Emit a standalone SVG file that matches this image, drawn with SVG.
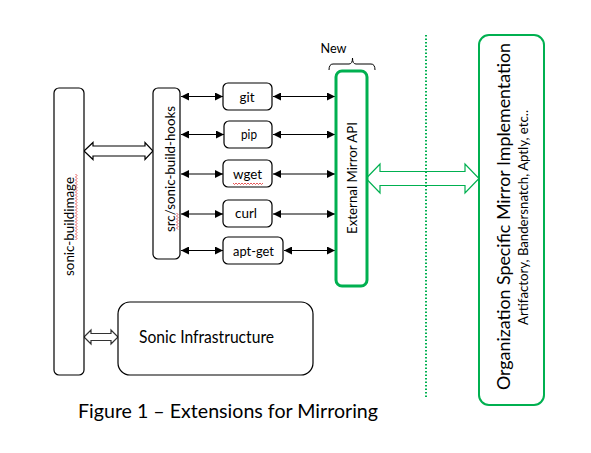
<svg xmlns="http://www.w3.org/2000/svg" width="591" height="453" viewBox="0 0 591 453">
<defs>
<marker id="ah" viewBox="0 0 10 10" refX="10" refY="5" markerWidth="8" markerHeight="8" markerUnits="userSpaceOnUse" orient="auto-start-reverse">
<path d="M0,0 L10,5 L0,10 z" fill="#000"/>
</marker>
</defs>
<style>
.box{fill:#fff;stroke:#000;stroke-width:1.2}
.gbox{fill:#fff;stroke:#00B050;stroke-width:3}
.t{font-family:Lato,"Liberation Sans",sans-serif;fill:#000}
.c{stroke:#000;stroke-width:1.2;fill:none;marker-start:url(#ah);marker-end:url(#ah)}
.sq{fill:none;stroke:#e03030;stroke-width:0.8}
</style>
<rect width="591" height="453" fill="#fff"/>
<g id="connectors">
<line class="c" x1="181" y1="96.5" x2="223" y2="96.5"/>
<line class="c" x1="181" y1="134.5" x2="224" y2="134.5"/>
<line class="c" x1="181" y1="174" x2="223" y2="174"/>
<line class="c" x1="181" y1="214" x2="223" y2="214"/>
<line class="c" x1="181" y1="250.5" x2="223" y2="250.5"/>
<line class="c" x1="273" y1="96.5" x2="335" y2="96.5"/>
<line class="c" x1="273" y1="134.5" x2="335" y2="134.5"/>
<line class="c" x1="273" y1="174" x2="335" y2="174"/>
<line class="c" x1="273" y1="214" x2="335" y2="214"/>
<line class="c" x1="284" y1="250.5" x2="335" y2="250.5"/>
<polygon points="84,151 93,142.5 93,146 145,146 145,142.5 153,151 145,159.5 145,156 93,156 93,159.5" fill="#fff" stroke="#000" stroke-width="1.2"/>
<polygon points="84,337 91,330 91,333.5 111,333.5 111,330 118,337 111,344 111,340.5 91,340.5 91,344" fill="#fff" stroke="#333" stroke-width="1.2"/>
<polygon points="366,178.5 380,164 380,171.5 465,171.5 465,164 479,178.5 465,193 465,185.5 380,185.5 380,193" fill="#fff" stroke="#00B050" stroke-width="1.2"/>
</g>
<line id="divider" x1="426" y1="35" x2="426" y2="398" stroke="#00B050" stroke-width="2" stroke-dasharray="1.5 2"/>
<g id="sonic-buildimage">
<rect class="box" x="54" y="88" width="30" height="287" rx="5"/>
<text class="t" font-size="13" text-anchor="middle" transform="translate(73.5,226.5) rotate(-90)" textLength="99" lengthAdjust="spacingAndGlyphs">sonic-buildimage</text>
<path class="sq" d="M75.5,174 l1.5,1.5 l-1.5,1.5 l1.5,1.5 l-1.5,1.5 l1.5,1.5 l-1.5,1.5 l1.5,1.5 l-1.5,1.5 l1.5,1.5 l-1.5,1.5 l1.5,1.5 l-1.5,1.5 l1.5,1.5 l-1.5,1.5 l1.5,1.5 l-1.5,1.5 l1.5,1.5 l-1.5,1.5 l1.5,1.5 l-1.5,1.5 l1.5,1.5 l-1.5,1.5 l1.5,1.5 l-1.5,1.5 l1.5,1.5 l-1.5,1.5 l1.5,1.5 l-1.5,1.5 l1.5,1.5 l-1.5,1.5 l1.5,1.5 l-1.5,1.5 l1.5,1.5 l-1.5,1.5 l1.5,1.5 l-1.5,1.5 l1.5,1.5 l-1.5,1.5 l1.5,1.5 l-1.5,1.5 l1.5,1.5 l-1.5,1.5 l1.5,1.5 l-1.5,1.5"/>
</g>
<g id="build-hooks">
<rect class="box" x="153" y="88" width="27" height="171" rx="5"/>
<text class="t" font-size="13" text-anchor="middle" transform="translate(174.5,169) rotate(-90)" textLength="126" lengthAdjust="spacingAndGlyphs">src/sonic-build-hooks</text>
<path class="sq" d="M176.5,213 l1.5,1.5 l-1.5,1.5 l1.5,1.5 l-1.5,1.5 l1.5,1.5 l-1.5,1.5 l1.5,1.5 l-1.5,1.5 l1.5,1.5 l-1.5,1.5 l1.5,1.5"/>
</g>
<g id="git">
<rect class="box" x="223" y="83" width="49" height="27" rx="5"/>
<text class="t" font-size="14" text-anchor="middle" x="247" y="101.5" textLength="15" lengthAdjust="spacingAndGlyphs">git</text>
</g>
<g id="pip">
<rect class="box" x="224" y="121" width="48" height="27" rx="5"/>
<text class="t" font-size="14" text-anchor="middle" x="249" y="139" textLength="16" lengthAdjust="spacingAndGlyphs">pip</text>
</g>
<g id="wget">
<rect class="box" x="223" y="160" width="49" height="27" rx="5"/>
<text class="t" font-size="14" text-anchor="middle" x="247.5" y="179" textLength="29" lengthAdjust="spacingAndGlyphs">wget</text>
<path class="sq" d="M233,183 l1.5,1.5 l1.5,-1.5 l1.5,1.5 l1.5,-1.5 l1.5,1.5 l1.5,-1.5 l1.5,1.5 l1.5,-1.5 l1.5,1.5 l1.5,-1.5 l1.5,1.5 l1.5,-1.5 l1.5,1.5 l1.5,-1.5 l1.5,1.5 l1.5,-1.5 l1.5,1.5 l1.5,-1.5 l1.5,1.5 l1.5,-1.5"/>
</g>
<g id="curl">
<rect class="box" x="223" y="200" width="49" height="27" rx="5"/>
<text class="t" font-size="14" text-anchor="middle" x="246" y="218" textLength="22" lengthAdjust="spacingAndGlyphs">curl</text>
</g>
<g id="apt-get">
<rect class="box" x="223" y="237" width="60" height="27" rx="5"/>
<text class="t" font-size="14" text-anchor="middle" x="253.5" y="256" textLength="41" lengthAdjust="spacingAndGlyphs">apt-get</text>
</g>
<g id="external-mirror-api">
<rect class="gbox" x="336" y="71" width="31" height="215" rx="6"/>
<text class="t" font-size="13" text-anchor="middle" transform="translate(356.5,178) rotate(-90)" textLength="112" lengthAdjust="spacingAndGlyphs">External Mirror API</text>
<path d="M329,70 Q329,64 333,64 L349,64 Q352.5,64 352.5,58 Q352.5,64 356,64 L371,64 Q375,64 375,70" fill="none" stroke="#000" stroke-width="1"/>
<text class="t" font-size="13" x="320.5" y="53" textLength="26" lengthAdjust="spacingAndGlyphs">New</text>
</g>
<g id="sonic-infrastructure">
<rect class="box" x="118" y="302" width="195" height="73" rx="12"/>
<text class="t" font-size="17" text-anchor="middle" x="206.5" y="343" textLength="135" lengthAdjust="spacingAndGlyphs">Sonic Infrastructure</text>
</g>
<g id="org-mirror">
<rect x="479" y="35" width="65" height="370" rx="10" fill="#fff" stroke="#00B050" stroke-width="2"/>
<text class="t" font-size="17" text-anchor="middle" transform="translate(510,216.5) rotate(-90)" textLength="347" lengthAdjust="spacingAndGlyphs">Organization Specific Mirror Implementation</text>
<text class="t" font-size="12.5" text-anchor="middle" transform="translate(528,217.5) rotate(-90)" textLength="215" lengthAdjust="spacingAndGlyphs">Artifactory, Bandersnatch, Aptly, etc..</text>
</g>
<text id="caption" class="t" font-size="19" x="78" y="418" textLength="300" lengthAdjust="spacingAndGlyphs">Figure 1 – Extensions for Mirroring</text>
</svg>
